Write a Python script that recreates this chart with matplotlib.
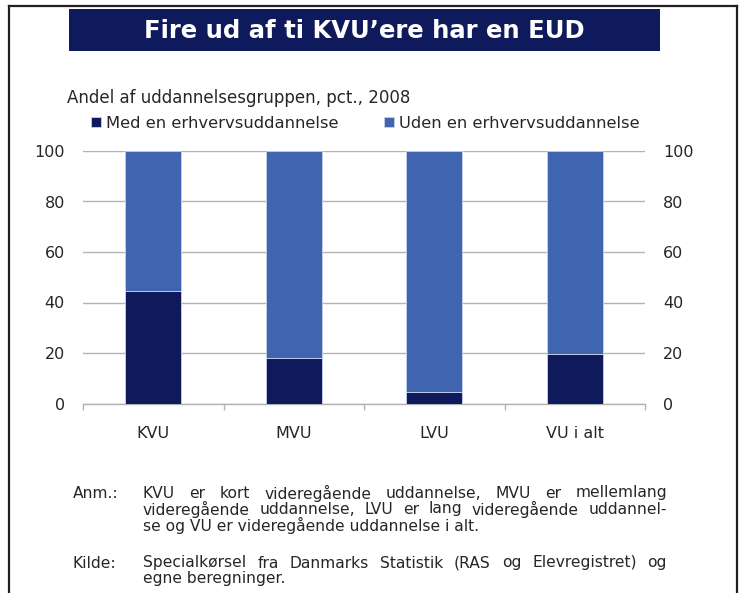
import matplotlib
matplotlib.use("Agg")
import matplotlib.pyplot as plt
from matplotlib.lines import Line2D
from matplotlib.patches import Rectangle
import numpy as np

categories = ["KVU", "MVU", "LVU", "VU i alt"]
med_eud = [44.5, 18.0, 4.5, 19.5]
uden_eud = [55.5, 82.0, 95.5, 80.5]
series_names = ["Med en erhvervsuddannelse", "Uden en erhvervsuddannelse"]
yticks = [0, 20, 40, 60, 80, 100]

title = "Fire ud af ti KVU\u2019ere har en EUD"
subtitle = "Andel af uddannelsesgruppen, pct., 2008"
note_lines = ["KVU er kort videregående uddannelse, MVU er mellemlang",
              "videregående uddannelse, LVU er lang videregående uddannel-",
              "se og VU er videregående uddannelse i alt."]
source_lines = ["Specialkørsel fra Danmarks Statistik (RAS og Elevregistret) og",
                "egne beregninger."]

DARK = "#0f1a5c"
BLUE = "#3f65b0"
GRID = "#b3b3b3"
TXT = "#262626"

W, H = 739, 593
plt.rcParams['font.family'] = ['DejaVu Sans']
fig = plt.figure(figsize=(W / 100, H / 100), dpi=100)

def fx(px):
    return px / W

def fy(py):
    return 1 - py / H

# frame
fig.add_artist(Line2D([fx(9), fx(9)], [0, fy(6)], color="#231f20", lw=1.6))
fig.add_artist(Line2D([fx(9), fx(737)], [fy(6), fy(6)], color="#231f20", lw=1.6))
fig.add_artist(Line2D([fx(737), fx(737)], [fy(6), 0], color="#231f20", lw=1.6))

# title box
fig.add_artist(Rectangle((fx(69), fy(51)), fx(660) - fx(69), fy(9) - fy(51),
                         facecolor=DARK, edgecolor="none"))
fig.text(fx(364), fy(31), title, color="white", fontsize=17.5, fontweight="bold",
         ha="center", va="center")

fig.text(fx(67), fy(98), subtitle, color=TXT, fontsize=12, ha="left", va="center")

ax = fig.add_axes([fx(83), fy(403.5), fx(645) - fx(83), fy(151) - fy(403.5)])
x = np.arange(len(categories))
b1 = ax.bar(x, med_eud, width=0.4, color=DARK, edgecolor="#c9d3ea", linewidth=0.6,
            label=series_names[0], zorder=3)
b2 = ax.bar(x, uden_eud, width=0.4, bottom=med_eud, color=BLUE, edgecolor="#c9d3ea",
            linewidth=0.6, label=series_names[1], zorder=3)
ax.set_xlim(-0.5, len(categories) - 0.5)
ax.set_ylim(0, 100)
ax.set_yticks(yticks)
ax.yaxis.grid(True, color=GRID, lw=1.0, zorder=0)
ax.tick_params(axis="y", length=0, labelsize=11.5, labelcolor=TXT, pad=13,
               labelright=True, labelleft=True)
for s in ["top", "left", "right"]:
    ax.spines[s].set_visible(False)
ax.spines["bottom"].set_color(GRID)
ax.spines["bottom"].set_linewidth(1.0)
ax.set_xticks(np.arange(-0.5, len(categories), 1.0))
ax.set_xticklabels([])
ax.set_xticks(x, minor=True)
ax.set_xticklabels(categories, minor=True)
ax.tick_params(axis="x", which="major", length=4, color=GRID, width=1.0)
ax.tick_params(axis="x", which="minor", length=0, labelsize=11.5, labelcolor=TXT, pad=16)

leg = fig.legend(handles=[b1, b2], loc="center left", bbox_to_anchor=(fx(91), fy(123)),
                 ncol=2, frameon=False, fontsize=11.8, handlelength=0.6, handleheight=0.6,
                 handletextpad=0.3, columnspacing=2.8, borderaxespad=0, borderpad=0)
for t in leg.get_texts():
    t.set_color(TXT)

# footnotes (justified)
fs = 11.2
renderer = fig.canvas.get_renderer()
x0, x1 = 143, 667

def put_line(line, ypx, justify):
    if not justify:
        fig.text(fx(x0), fy(ypx), line, color=TXT, fontsize=fs, ha="left", va="center")
        return
    words = line.split(" ")
    arts = [fig.text(0, fy(ypx), w, color=TXT, fontsize=fs, ha="left", va="center")
            for w in words]
    widths = [a.get_window_extent(renderer).width for a in arts]
    gap = (x1 - x0 - sum(widths)) / (len(words) - 1)
    pos = x0
    for a, w in zip(arts, widths):
        a.set_x(fx(pos))
        pos += w + gap

fig.text(fx(73), fy(493), "Anm.:", color=TXT, fontsize=fs, ha="left", va="center")
for i, line in enumerate(note_lines):
    put_line(line, 493 + 16 * i, i < len(note_lines) - 1)
fig.text(fx(73), fy(563), "Kilde:", color=TXT, fontsize=fs, ha="left", va="center")
for i, line in enumerate(source_lines):
    put_line(line, 563 + 16 * i, i < len(source_lines) - 1)

fig.savefig("out.png", dpi=100)
